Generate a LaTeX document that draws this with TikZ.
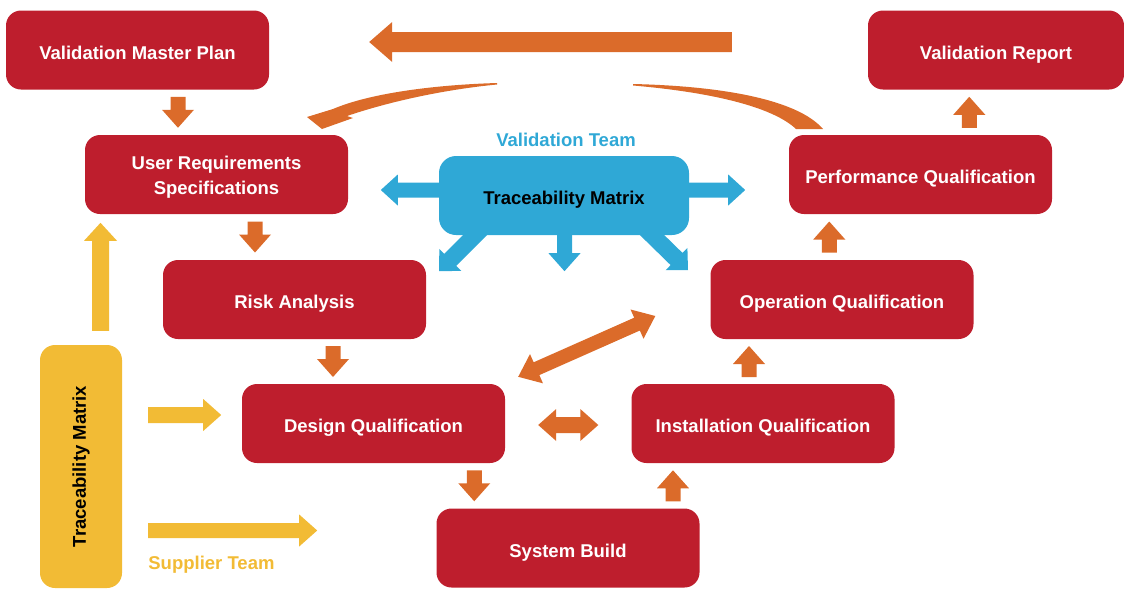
\documentclass[tikz,border=0pt]{standalone}
\usepackage{fontspec}
\setmainfont{Liberation Sans}
\usetikzlibrary{calc}
\definecolor{vred}{HTML}{BE1E2D}
\definecolor{vorange}{HTML}{DB6B2A}
\definecolor{vblue}{HTML}{2FA8D6}
\definecolor{vyellow}{HTML}{F2BB35}
% single block arrow: style, start, tip, half shaft, half head, head length
\newcommand\blk[6]{%
  \coordinate (blkB) at ($(#3)!#6!(#2)$);
  \fill[#1] ($(#2)!#4!90:(#3)$) -- ($(blkB)!#4!90:(#3)$) -- ($(blkB)!#5!90:(#3)$) -- (#3)
    -- ($(blkB)!#5!-90:(#3)$) -- ($(blkB)!#4!-90:(#3)$) -- ($(#2)!#4!-90:(#3)$) -- cycle;}
% double block arrow: style, tip1, tip2, half shaft, half head, head length
\newcommand\dblk[6]{%
  \coordinate (dA) at ($(#2)!#6!(#3)$);
  \coordinate (dB) at ($(#3)!#6!(#2)$);
  \fill[#1] (#2) -- ($(dA)!#5!90:(#3)$) -- ($(dA)!#4!90:(#3)$) -- ($(dB)!#4!-90:(#2)$)
    -- ($(dB)!#5!-90:(#2)$) -- (#3) -- ($(dB)!#5!90:(#2)$) -- ($(dB)!#4!90:(#2)$)
    -- ($(dA)!#4!-90:(#3)$) -- ($(dA)!#5!-90:(#3)$) -- cycle;}
% vertical orange link between two anchors: from, to, dx, dir (1 down, -1 up)
\newcommand\vlink[4]{%
  \coordinate (vm) at ($(#1)!.5!(#2)+(#3,0)$);
  \coordinate (vs) at ($(vm)+(0,{-15.5*(#4)})$);
  \coordinate (vt) at ($(vm)+(0,{15.5*(#4)})$);
  \blk{fill=vorange}{vs}{vt}{7.5pt}{16pt}{18pt}}
\begin{document}
\begin{tikzpicture}[x=1pt,y=-1pt,
  lbl/.style={font=\fontsize{18.5}{24.5}\selectfont\bfseries, align=center},
  low/.style={text height=18pt, text depth=0pt},
  box/.style={lbl, low, fill=vred, rounded corners=15pt, minimum width=263pt,
    minimum height=79pt, text=white, inner sep=0pt},
  bbox/.style={lbl, low, fill=vblue, rounded corners=17pt, minimum width=250pt,
    minimum height=79pt, text=black, inner sep=0pt},
  ybox/.style={fill=vyellow, rounded corners=15pt, minimum width=82pt,
    minimum height=243pt, inner sep=0pt}]
\useasboundingbox (0,0) rectangle (1124,590);
% boxes
\node[box] (vmp) at (137.5,50) {Validation Master Plan};
\node[box, text height=39.5pt] (urs) at (216.5,174.5) {User Requirements\\Specifications};
\node[box] (ra) at (294.5,299.5) {Risk Analysis};
\node[box] (dq) at (373.5,423.5) {Design Qualification};
\node[box] (sb) at (568,548) {System Build};
\node[box] (iq) at (763,423.5) {Installation Qualification};
\node[box] (oq) at (842,299.5) {Operation Qualification};
\node[box] (pq) at (920.5,174.5) {Performance Qualification};
\node[box, minimum width=256pt] (vr) at (996,50) {Validation Report};
\node[bbox] (btm) at (564,195.5) {Traceability Matrix};
\node[ybox] (ytm) at (81,466.5) {};
\node[lbl, rotate=90, inner sep=0pt] (ytmtext) at (ytm.center) {Traceability Matrix};
% labels
\node[lbl, text=vblue, inner sep=0pt] (vteam) at ($(btm.north)+(2,-15.5)$) {Validation Team};
\node[lbl, text=vyellow, inner sep=0pt, anchor=west] (steam) at ($(ytm.east)+(26,98.5)$) {Supplier Team};
% orange vertical links
\vlink{vmp.south}{urs.north}{1}{1}
\vlink{urs.south}{ra.north}{-0.5}{1}
\vlink{ra.south}{dq.north}{-1}{1}
\vlink{dq.south}{sb.north}{3.5}{1}
\vlink{sb.north}{iq.south}{7.5}{-1}
\vlink{iq.north}{oq.south}{-53.5}{-1}
\vlink{oq.north}{pq.south}{-52}{-1}
\vlink{pq.north}{vr.south}{11}{-1}
% top long arrow
\coordinate (t1) at ($(vr.west)+(-136,-8)$);
\coordinate (t2) at ($(vmp.east)+(100,-8)$);
\blk{fill=vorange}{t1}{t2}{10pt}{20pt}{23pt}
% double arrows
\coordinate (d1) at ($(dq.east)+(33,1.5)$);
\coordinate (d2) at ($(iq.west)+(-33,1.5)$);
\dblk{fill=vorange}{d1}{d2}{8pt}{16pt}{18pt}
\coordinate (d3) at ($(dq.north east)+(13,-7)$);
\coordinate (d4) at ($(oq.west)+(-55,16.5)$);
\dblk{fill=vorange}{d3}{d4}{7pt}{16pt}{20pt}
% curved arrows
\fill[vorange] (497,83) .. controls (430,85) and (368,94) .. (333,109) -- (307,117)
  -- (322,129) -- (353,118) -- (347,116) .. controls (385,103) and (440,90) .. (497,84.5) -- cycle;
\fill[vorange] (633,84) .. controls (720,86) and (797,99) .. (823,129) -- (796,129)
  .. controls (775,109) and (720,93) .. (633,85.5) -- cycle;
% blue arrows
\coordinate (bl1) at ($(btm.west)+(10,-5.5)$);
\coordinate (bl2) at ($(btm.west)+(-58,-5.5)$);
\blk{fill=vblue}{bl1}{bl2}{7.5pt}{15.5pt}{17pt}
\coordinate (br1) at ($(btm.east)+(-10,-5.5)$);
\coordinate (br2) at ($(btm.east)+(56,-5.5)$);
\blk{fill=vblue}{br1}{br2}{7.5pt}{15.5pt}{17pt}
\coordinate (bm1) at ($(btm.south)+(0.5,-10)$);
\coordinate (bm2) at ($(btm.south)+(0.5,36)$);
\blk{fill=vblue}{bm1}{bm2}{7.5pt}{16pt}{18pt}
\coordinate (bd1) at ($(btm.south)+(-79,-10)$);
\coordinate (bd2) at ($(btm.south)+(-125,36)$);
\blk{fill=vblue}{bd1}{bd2}{8.5pt}{15.5pt}{16pt}
\coordinate (bd3) at ($(btm.south)+(78,-10)$);
\coordinate (bd4) at ($(btm.south)+(124,35)$);
\blk{fill=vblue}{bd3}{bd4}{8.5pt}{15.5pt}{16pt}
% yellow arrows
\coordinate (yu1) at ($(ytm.north)+(19.5,-14)$);
\coordinate (yu2) at ($(ytm.north)+(19.5,-122)$);
\blk{fill=vyellow}{yu1}{yu2}{8.5pt}{16.5pt}{18pt}
\coordinate (yr1) at ($(ytm.east)+(26,-51.5)$);
\coordinate (yr2) at ($(ytm.east)+(99,-51.5)$);
\blk{fill=vyellow}{yr1}{yr2}{8pt}{16pt}{18pt}
\coordinate (yr3) at ($(ytm.east)+(26,64)$);
\coordinate (yr4) at ($(ytm.east)+(195,64)$);
\blk{fill=vyellow}{yr3}{yr4}{7.5pt}{16pt}{18pt}
\end{tikzpicture}
\end{document}
